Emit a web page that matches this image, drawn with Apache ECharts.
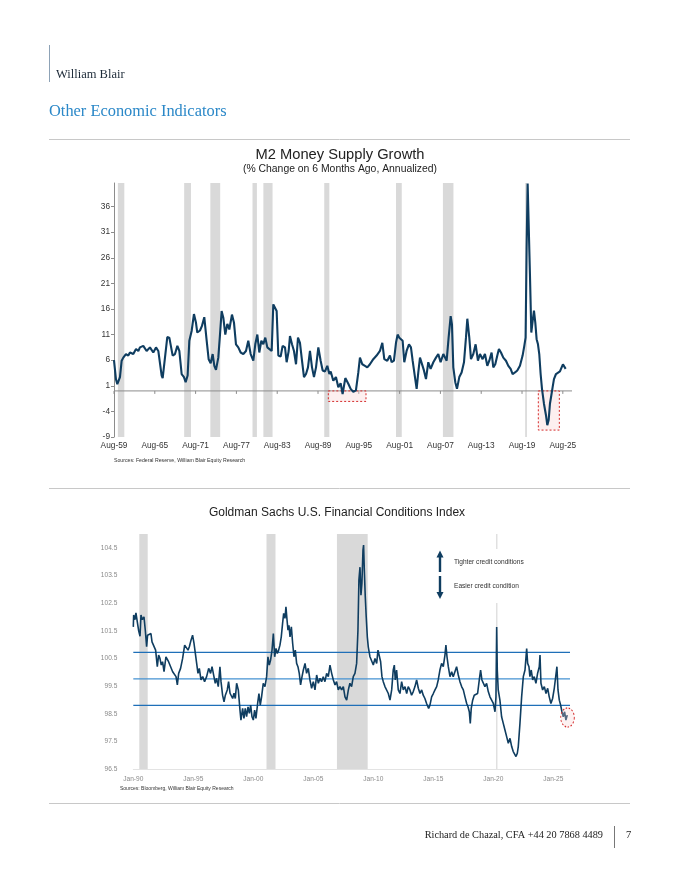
<!DOCTYPE html>
<html>
<head>
<meta charset="utf-8">
<script src="https://cdn.jsdelivr.net/npm/echarts@6/dist/echarts.min.js"></script>
<style>html,body{margin:0;padding:0;background:#fff}#c{width:680px;height:880px}</style>
</head>
<body>
<div id="c"></div>
<script>
// ---------------- Chart 1: M2 Money Supply Growth ----------------
const m2Start = 1959 + 7 / 12; // Aug-59
const m2XLabels = ['Aug-59','Aug-65','Aug-71','Aug-77','Aug-83','Aug-89','Aug-95','Aug-01','Aug-07','Aug-13','Aug-19','Aug-25'];
const m2YTicks = [-9, -4, 1, 6, 11, 16, 21, 26, 31, 36];
const m2Recessions = [[1960.15,1961.1],[1969.9,1970.9],[1973.75,1975.2],[1979.95,1980.6],[1981.55,1982.9],[1990.5,1991.25],[2001.05,2001.9],[2007.95,2009.5],[2020.05,2020.3]];
const m2Highlights = [[1991.1, 0, 1996.64, -2.05], [2021.98, 0, 2025.07, -7.65]];
const m2Growth = [
[1959.58,6.0],[1959.87,2.3],[1960.07,1.3],[1960.46,2.7],[1960.71,5.9],[1960.95,6.5],[1961.34,7.2],[1961.69,6.9],[1961.93,7.5],
[1962.42,7.2],[1962.82,8.2],[1963.16,7.8],[1963.4,8.5],[1963.89,8.8],[1964.38,7.8],[1964.87,8.5],[1965.36,7.5],[1965.76,8.5],
[1966.1,7.8],[1966.59,3.0],[1966.74,2.5],[1967.08,6.5],[1967.42,10.5],[1967.72,10.4],[1968.21,6.9],[1968.55,7.2],[1968.9,8.8],
[1969.19,7.8],[1969.53,3.3],[1969.87,2.7],[1970.12,1.7],[1970.41,3.0],[1970.66,9.8],[1971.0,11.7],[1971.34,15.0],[1971.64,13.3],
[1971.83,11.4],[1972.23,11.8],[1972.52,12.7],[1972.86,14.4],[1973.21,9.8],[1973.5,6.2],[1973.8,5.4],[1974.09,7.2],[1974.34,4.9],
[1974.58,4.1],[1974.92,6.5],[1975.17,11.0],[1975.41,15.6],[1975.66,14.3],[1975.95,11.0],[1976.25,13.1],[1976.54,12.0],[1976.93,14.9],
[1977.23,13.3],[1977.52,9.1],[1977.86,8.5],[1978.21,7.5],[1978.6,7.2],[1978.99,7.8],[1979.33,9.8],[1979.68,7.2],[1980.07,5.9],
[1980.36,9.1],[1980.66,11.0],[1980.95,7.5],[1981.25,9.8],[1981.54,9.1],[1981.83,10.4],[1982.13,8.5],[1982.42,8.8],[1982.77,7.8],
[1983.01,16.9],[1983.26,17.2],[1983.5,15.6],[1983.75,6.9],[1984.09,6.7],[1984.38,8.8],[1984.73,8.5],[1984.97,5.6],[1985.27,7.8],
[1985.46,10.7],[1985.76,9.1],[1986.05,7.8],[1986.35,5.2],[1986.64,10.4],[1986.93,9.4],[1987.23,5.9],[1987.52,2.7],[1987.82,3.3],
[1988.11,4.6],[1988.4,7.8],[1988.7,4.6],[1988.99,2.7],[1989.29,4.6],[1989.63,8.5],[1989.97,5.9],[1990.27,4.0],[1990.61,3.8],
[1990.95,4.9],[1991.25,3.3],[1991.45,3.8],[1991.83,2.0],[1992.22,2.7],[1992.57,0.7],[1992.91,1.5],[1993.2,-0.6],[1993.6,2.5],
[1994.04,1.4],[1994.38,0.4],[1994.77,-0.2],[1995.16,0.1],[1995.51,3.6],[1995.75,6.5],[1996.1,5.2],[1996.49,4.9],[1996.83,4.6],
[1997.22,5.2],[1997.71,6.2],[1998.2,6.9],[1998.69,7.8],[1999.04,9.4],[1999.33,6.2],[1999.77,5.9],[2000.16,6.9],[2000.41,5.6],
[2000.75,5.9],[2001.05,9.4],[2001.29,11.0],[2001.54,10.4],[2001.73,10.4],[2002.03,9.8],[2002.27,5.6],[2002.61,7.8],[2002.96,9.1],
[2003.25,8.5],[2003.5,5.9],[2003.84,2.7],[2004.09,0.4],[2004.33,3.6],[2004.58,6.5],[2004.87,6.2],[2005.16,4.0],[2005.46,2.3],
[2005.8,5.6],[2006.14,4.3],[2006.54,5.6],[2006.93,6.5],[2007.27,7.2],[2007.61,5.6],[2008.01,7.2],[2008.3,7.5],[2008.5,5.9],
[2008.79,10.4],[2009.09,14.6],[2009.28,13.0],[2009.48,4.6],[2009.77,1.7],[2010.02,0.4],[2010.36,2.7],[2010.7,3.6],[2011.05,5.6],
[2011.34,10.4],[2011.54,14.1],[2011.83,10.4],[2012.08,6.2],[2012.42,7.2],[2012.76,9.1],[2013.1,5.9],[2013.4,7.2],[2013.79,6.2],
[2014.13,7.2],[2014.48,4.9],[2014.77,5.9],[2015.11,7.5],[2015.36,4.6],[2015.65,5.2],[2015.95,6.9],[2016.19,8.2],[2016.49,7.5],
[2016.83,6.5],[2017.22,5.9],[2017.57,4.9],[2017.91,4.3],[2018.2,3.3],[2018.55,3.6],[2018.89,4.0],[2019.28,4.9],[2019.67,6.9],
[2019.92,8.8],[2020.11,10.4],[2020.26,27.8],[2020.41,40.5],[2020.6,40.5],[2020.75,22.7],[2020.95,11.4],[2021.14,13.6],[2021.34,15.7],
[2021.54,13.3],[2021.73,10.1],[2021.93,9.1],[2022.12,7.2],[2022.32,3.3],[2022.52,0.4],[2022.81,-2.5],[2023.1,-4.7],[2023.3,-6.7],
[2023.5,-5.7],[2023.69,-2.5],[2023.89,-0.9],[2024.08,0.7],[2024.28,2.3],[2024.58,3.3],[2024.87,3.6],[2025.16,3.8],[2025.41,4.6],
[2025.6,5.2],[2025.8,4.9],[2026.0,4.3]
];

// ---------------- Chart 2: Goldman Sachs FCI ----------------
const fciXLabels = ['Jan-90','Jan-95','Jan-00','Jan-05','Jan-10','Jan-15','Jan-20','Jan-25'];
const fciRecessions = [[1990.5,1991.2],[2001.1,2001.85],[2006.97,2009.53],[2020.24,2020.32]];
const fciBandLevels = [100.72, 99.76, 98.8];
const fciBandColors = ['#1f6fb8', '#4592d2', '#1f6fb8'];
const fciIndex = [
[1990.0,101.64],[1990.03,102.07],[1990.14,101.9],[1990.22,102.15],[1990.33,101.83],[1990.44,101.52],[1990.56,101.3],[1990.64,102.07],
[1990.75,101.9],[1990.89,102.0],[1991.0,101.52],[1991.11,100.92],[1991.19,101.34],[1991.33,101.28],[1991.47,101.4],[1991.56,101.1],
[1991.72,101.04],[1991.86,100.8],[1992.0,100.2],[1992.11,100.62],[1992.22,100.5],[1992.33,100.26],[1992.44,100.38],[1992.56,100.02],
[1992.72,100.56],[1992.83,100.62],[1992.94,100.38],[1993.11,100.2],[1993.28,100.02],[1993.44,99.96],[1993.56,99.84],[1993.67,99.54],
[1993.78,99.96],[1993.94,100.14],[1994.11,100.5],[1994.28,100.98],[1994.39,101.04],[1994.56,100.8],[1994.67,100.92],[1994.81,101.16],
[1994.94,101.34],[1995.06,101.04],[1995.17,100.68],[1995.28,100.32],[1995.39,99.96],[1995.5,100.14],[1995.64,99.72],[1995.78,99.84],
[1995.94,99.66],[1996.11,99.84],[1996.28,100.14],[1996.44,99.96],[1996.56,100.2],[1996.72,99.84],[1996.83,99.6],[1996.94,99.78],
[1997.08,99.48],[1997.22,100.2],[1997.31,99.66],[1997.44,99.17],[1997.56,98.93],[1997.67,99.17],[1997.83,99.36],[1997.94,99.66],
[1998.06,99.24],[1998.17,99.17],[1998.28,99.05],[1998.39,99.24],[1998.5,99.05],[1998.61,99.6],[1998.75,99.36],[1998.89,98.63],
[1998.97,98.27],[1999.11,98.69],[1999.22,98.33],[1999.33,98.69],[1999.44,98.39],[1999.56,98.75],[1999.67,98.51],[1999.78,98.81],
[1999.89,98.39],[2000.0,98.27],[2000.11,98.63],[2000.22,98.33],[2000.36,98.87],[2000.47,99.23],[2000.58,98.81],[2000.69,99.11],
[2000.83,99.6],[2000.97,99.48],[2001.11,99.84],[2001.22,100.56],[2001.33,100.26],[2001.44,100.44],[2001.56,100.8],[2001.67,101.4],
[2001.78,100.56],[2001.89,100.86],[2002.0,100.68],[2002.11,100.8],[2002.22,100.98],[2002.33,101.28],[2002.44,101.77],[2002.53,102.13],
[2002.64,101.95],[2002.72,102.37],[2002.81,101.89],[2002.89,101.52],[2002.97,101.7],[2003.06,101.28],[2003.17,101.64],[2003.28,101.04],
[2003.39,100.56],[2003.5,100.8],[2003.61,100.32],[2003.72,100.2],[2003.83,99.96],[2003.94,99.54],[2004.06,99.84],[2004.17,100.08],
[2004.31,100.32],[2004.44,99.96],[2004.58,100.14],[2004.72,99.72],[2004.86,99.42],[2005.0,99.66],[2005.14,99.36],[2005.28,99.9],
[2005.42,99.6],[2005.56,99.78],[2005.69,99.66],[2005.83,99.84],[2005.97,99.66],[2006.11,99.96],[2006.25,99.84],[2006.39,100.26],
[2006.53,99.96],[2006.67,99.72],[2006.81,99.54],[2006.94,99.66],[2007.08,99.36],[2007.22,99.48],[2007.36,99.36],[2007.5,99.48],
[2007.64,99.11],[2007.78,98.99],[2007.92,99.36],[2008.05,99.6],[2008.19,99.48],[2008.33,99.84],[2008.47,99.96],[2008.61,100.32],
[2008.72,101.52],[2008.8,103.33],[2008.89,103.8],[2008.97,102.79],[2009.05,103.21],[2009.14,104.42],[2009.19,104.6],[2009.25,103.7],
[2009.33,102.73],[2009.41,102.0],[2009.5,101.28],[2009.58,100.92],[2009.72,100.56],[2009.86,100.62],[2010.0,100.26],[2010.14,100.5],
[2010.28,100.32],[2010.39,100.8],[2010.5,100.86],[2010.61,100.38],[2010.72,99.84],[2010.83,99.66],[2010.97,99.48],[2011.11,99.54],
[2011.25,99.23],[2011.39,98.99],[2011.53,99.36],[2011.66,100.08],[2011.75,100.26],[2011.83,99.72],[2011.94,100.08],[2012.08,99.36],
[2012.22,99.23],[2012.36,99.66],[2012.5,99.36],[2012.64,99.48],[2012.78,99.23],[2012.91,99.48],[2013.05,99.36],[2013.19,99.17],
[2013.33,99.3],[2013.47,99.48],[2013.61,99.72],[2013.75,99.42],[2013.89,99.23],[2014.03,99.36],[2014.16,99.17],[2014.3,99.05],
[2014.44,98.87],[2014.61,98.69],[2014.72,98.81],[2014.86,99.11],[2015.0,99.23],[2015.14,99.36],[2015.28,99.48],[2015.41,99.72],
[2015.55,100.08],[2015.69,100.32],[2015.83,100.2],[2015.97,100.62],[2016.05,100.98],[2016.14,100.56],[2016.25,100.2],[2016.39,99.84],
[2016.53,100.02],[2016.66,99.84],[2016.8,99.78],[2016.94,100.2],[2017.08,99.9],[2017.22,99.66],[2017.36,99.48],[2017.5,99.36],
[2017.64,99.11],[2017.78,98.87],[2017.89,98.75],[2018.0,98.57],[2018.08,98.15],[2018.16,98.69],[2018.28,98.99],[2018.41,99.17],
[2018.55,99.11],[2018.69,99.23],[2018.83,99.72],[2018.94,100.08],[2019.05,99.72],[2019.16,99.66],[2019.3,99.48],[2019.44,99.6],
[2019.58,99.3],[2019.72,99.11],[2019.86,98.99],[2020.0,98.87],[2020.14,98.57],[2020.22,99.11],[2020.28,101.64],[2020.33,100.08],
[2020.41,99.36],[2020.55,98.99],[2020.69,98.39],[2020.83,98.15],[2020.97,97.91],[2021.11,97.67],[2021.25,97.43],[2021.39,97.61],
[2021.53,97.31],[2021.66,97.13],[2021.8,97.19],[2021.89,96.95],[2022.0,97.07],[2022.08,97.31],[2022.22,98.15],[2022.36,99.11],
[2022.5,99.84],[2022.64,100.08],[2022.78,100.86],[2022.86,100.32],[2022.97,100.2],[2023.05,99.84],[2023.16,100.08],[2023.28,99.72],
[2023.41,99.84],[2023.55,99.6],[2023.69,99.96],[2023.83,100.2],[2023.89,100.62],[2023.97,99.6],[2024.11,99.36],[2024.25,99.48],
[2024.39,99.23],[2024.53,99.42],[2024.66,99.11],[2024.8,98.87],[2024.94,99.05],[2025.08,99.42],[2025.22,99.48],[2025.3,100.2],
[2025.39,99.36],[2025.5,98.99],[2025.61,98.81],[2025.72,98.57],[2025.83,98.39],[2025.94,98.57],[2026.05,98.27],[2026.16,98.45]
];

// ---------------- styling constants ----------------
const NAVY = '#0f3d60';
const SANS = '"Liberation Sans", Arial, sans-serif';
const SERIF = '"Liberation Serif", "DejaVu Serif", serif';
const REC = '#d9d9d9';

const chart = echarts.init(document.getElementById('c'), null, {renderer: 'canvas'});

function bandItem(params, api) {
  const x0 = api.coord([api.value(0), api.value(2)])[0];
  const x1 = api.coord([api.value(1), api.value(2)])[0];
  const cs = params.coordSys;
  return {type: 'rect', shape: {x: x0, y: cs.y, width: Math.max(x1 - x0, 1.2), height: cs.height}, style: {fill: REC}};
}
function hLineItem(colors, w) {
  return function (params, api) {
    const cs = params.coordSys;
    const y = api.coord([api.value(0), api.value(1)])[1];
    return {type: 'line', shape: {x1: cs.x, y1: y, x2: cs.x + cs.width, y2: y},
      style: {stroke: colors[params.dataIndex % colors.length], lineWidth: w}};
  };
}
function tickItem(params, api) {
  const p = api.coord([api.value(0), 0]);
  return {type: 'line', shape: {x1: p[0], y1: p[1], x2: p[0], y2: p[1] + 3}, style: {stroke: '#8c8c8c', lineWidth: 1}};
}
function boxItem(params, api) {
  const a = api.coord([api.value(0), api.value(1)]);
  const b = api.coord([api.value(2), api.value(3)]);
  return {type: 'rect', shape: {x: a[0], y: a[1], width: b[0] - a[0], height: b[1] - a[1]},
    style: {fill: 'rgba(250,210,210,0.35)', stroke: '#d42a2a', lineWidth: 1, lineDash: [2, 2]}};
}

const m2Off = v => v - m2Start;
const m2XMax = 67.35;
const fciXMin = 1990, fciXMax = 2026.39;

const option = {
  animation: false,
  backgroundColor: '#ffffff',
  grid: [
    {left: 114, top: 183, width: 458, height: 254},
    {left: 133.3, top: 534, width: 436.7, height: 235}
  ],
  xAxis: [
    {type: 'value', gridIndex: 0, min: 0, max: m2XMax, interval: 6,
      axisLine: {show: false, onZero: false}, axisTick: {show: false}, splitLine: {show: false},
      axisLabel: {show: true, showMaxLabel: false, margin: 5, color: '#333', fontSize: 8.3, fontFamily: SANS,
        formatter: v => m2XLabels[Math.round(v / 6)] || ''}},
    {type: 'value', gridIndex: 1, min: fciXMin, max: fciXMax, interval: 5,
      axisLine: {show: true, onZero: false, lineStyle: {color: '#e3e3e3', width: 1}}, axisTick: {show: false}, splitLine: {show: false},
      axisLabel: {show: true, showMaxLabel: false, margin: 7, color: '#8a8a8a', fontSize: 6.6, fontFamily: SANS,
        formatter: v => fciXLabels[Math.round((v - fciXMin) / 5)] || ''}}
  ],
  yAxis: [
    {type: 'value', gridIndex: 0, min: -9, max: 40.6, interval: 5,
      axisLine: {show: true, lineStyle: {color: '#8c8c8c', width: 1}},
      axisTick: {show: true, length: 3, lineStyle: {color: '#8c8c8c'}},
      splitLine: {show: false},
      axisLabel: {showMaxLabel: false, margin: 4, color: '#333', fontSize: 8.3, fontFamily: SANS,
        formatter: v => (m2YTicks.indexOf(Math.round(v)) >= 0 ? String(Math.round(v)) : '')}},
    {type: 'value', gridIndex: 1, min: 96.5, max: 105, interval: 1,
      axisLine: {show: false}, axisTick: {show: false}, splitLine: {show: false},
      axisLabel: {showMaxLabel: false, margin: 16, color: '#8a8a8a', fontSize: 6.6, fontFamily: SANS,
        formatter: v => v.toFixed(1)}}
  ],
  series: [
    {type: 'custom', name: 'm2Rec', xAxisIndex: 0, yAxisIndex: 0, z: 1, silent: true,
      renderItem: bandItem, encode: {x: [0, 1], y: 2},
      data: m2Recessions.map(r => [m2Off(r[0]), m2Off(r[1]), 0])},
    {type: 'custom', name: 'm2Zero', xAxisIndex: 0, yAxisIndex: 0, z: 2, silent: true,
      renderItem: hLineItem(['#8c8c8c'], 1), encode: {x: 0, y: 1}, data: [[0, 0]]},
    {type: 'custom', name: 'm2Ticks', xAxisIndex: 0, yAxisIndex: 0, z: 2, silent: true,
      renderItem: tickItem, encode: {x: 0, y: 1}, data: m2XLabels.map((l, i) => [i * 6, 0])},
    {type: 'custom', name: 'm2Boxes', xAxisIndex: 0, yAxisIndex: 0, z: 2, silent: true,
      renderItem: boxItem, encode: {x: [0, 2], y: [1, 3]},
      data: m2Highlights.map(h => [m2Off(h[0]), h[1], m2Off(h[2]), h[3]])},
    {type: 'line', name: 'M2', xAxisIndex: 0, yAxisIndex: 0, z: 4, showSymbol: false, clip: true,
      lineStyle: {color: NAVY, width: 2.1}, data: m2Growth.map(p => [m2Off(p[0]), p[1]])},

    {type: 'custom', name: 'fciRec', xAxisIndex: 1, yAxisIndex: 1, z: 1, silent: true,
      renderItem: bandItem, encode: {x: [0, 1], y: 2},
      data: fciRecessions.map(r => [r[0], r[1], 100])},
    {type: 'custom', name: 'fciBands', xAxisIndex: 1, yAxisIndex: 1, z: 2, silent: true,
      renderItem: hLineItem(fciBandColors, 1.2), encode: {x: 0, y: 1},
      data: fciBandLevels.map(v => [fciXMin, v])},
    {type: 'line', name: 'FCI', xAxisIndex: 1, yAxisIndex: 1, z: 4, showSymbol: false, clip: true,
      lineStyle: {color: NAVY, width: 1.6}, data: fciIndex}
  ],
  graphic: [
    // header
    {type: 'line', z: 20, shape: {x1: 49.5, y1: 45, x2: 49.5, y2: 82}, style: {stroke: '#8da2b6', lineWidth: 1}},
    {type: 'text', z: 20, x: 56, y: 75, style: {text: 'William Blair', font: '12.5px ' + SERIF, fill: '#1d2a38', textAlign: 'left', align: 'left', textVerticalAlign: 'middle', verticalAlign: 'middle'}},
    {type: 'text', z: 20, x: 49, y: 112, style: {text: 'Other Economic Indicators', font: '16.4px ' + SERIF, fill: '#2b88c8', textAlign: 'left', align: 'left', textVerticalAlign: 'middle', verticalAlign: 'middle'}},
    // separators
    {type: 'line', z: 20, shape: {x1: 49, y1: 139.5, x2: 630, y2: 139.5}, style: {stroke: '#c8c8c8', lineWidth: 1}},
    {type: 'line', z: 20, shape: {x1: 49, y1: 488.5, x2: 630, y2: 488.5}, style: {stroke: '#c8c8c8', lineWidth: 1}},
    {type: 'line', z: 20, shape: {x1: 49, y1: 803.5, x2: 630, y2: 803.5}, style: {stroke: '#c8c8c8', lineWidth: 1}},
    // chart 1 titles
    {type: 'text', z: 20, x: 340, y: 155, style: {text: 'M2 Money Supply Growth', font: '14.7px ' + SANS, fill: '#222', textAlign: 'center', align: 'center', textVerticalAlign: 'middle', verticalAlign: 'middle'}},
    {type: 'text', z: 20, x: 340, y: 169.5, style: {text: '(% Change on 6 Months Ago, Annualized)', font: '10.4px ' + SANS, fill: '#222', textAlign: 'center', align: 'center', textVerticalAlign: 'middle', verticalAlign: 'middle'}},
    {type: 'text', z: 20, x: 114, y: 461, style: {text: 'Sources: Federal Reserve, William Blair Equity Research', font: '5.2px ' + SANS, fill: '#333', textAlign: 'left', align: 'left', textVerticalAlign: 'middle', verticalAlign: 'middle'}},
    // chart 2 titles
    {type: 'text', z: 20, x: 337, y: 513, style: {text: 'Goldman Sachs U.S. Financial Conditions Index', font: '12px ' + SANS, fill: '#222', textAlign: 'center', align: 'center', textVerticalAlign: 'middle', verticalAlign: 'middle'}},
    {type: 'text', z: 20, x: 120, y: 789, style: {text: 'Sources: Bloomberg, William Blair Equity Research', font: '5px ' + SANS, fill: '#333', textAlign: 'left', align: 'left', textVerticalAlign: 'middle', verticalAlign: 'middle'}},
    // legend box (white) with arrows
    {type: 'rect', z: 10, shape: {x: 428, y: 549, width: 134, height: 54}, style: {fill: '#ffffff'}},
    {type: 'line', z: 21, shape: {x1: 440, y1: 556, x2: 440, y2: 572}, style: {stroke: NAVY, lineWidth: 2.4}},
    {type: 'polygon', z: 21, shape: {points: [[440, 550.5], [436.5, 557.5], [443.5, 557.5]]}, style: {fill: NAVY}},
    {type: 'line', z: 21, shape: {x1: 440, y1: 576, x2: 440, y2: 593}, style: {stroke: NAVY, lineWidth: 2.4}},
    {type: 'polygon', z: 21, shape: {points: [[440, 599], [436.5, 592], [443.5, 592]]}, style: {fill: NAVY}},
    {type: 'text', z: 21, x: 454, y: 562, style: {text: 'Tighter credit conditions', font: '6.6px ' + SANS, fill: '#333', textAlign: 'left', align: 'left', textVerticalAlign: 'middle', verticalAlign: 'middle'}},
    {type: 'text', z: 21, x: 454, y: 586.5, style: {text: 'Easier credit condition', font: '6.6px ' + SANS, fill: '#333', textAlign: 'left', align: 'left', textVerticalAlign: 'middle', verticalAlign: 'middle'}},
    // red dashed ellipse at end of FCI
    {type: 'circle', z: 21, x: 567.5, y: 717.5, scaleY: 1.4, shape: {cx: 0, cy: 0, r: 6.8},
      style: {fill: 'rgba(250,210,210,0.3)', stroke: '#d42a2a', lineWidth: 0.9, lineDash: [1.5, 1.5], strokeNoScale: true}},
    // footer
    {type: 'text', z: 20, x: 603, y: 835.5, style: {text: 'Richard de Chazal, CFA +44 20 7868 4489', font: '10.3px ' + SERIF, fill: '#222', textAlign: 'right', align: 'right', textVerticalAlign: 'middle', verticalAlign: 'middle'}},
    {type: 'line', z: 20, shape: {x1: 614.5, y1: 826, x2: 614.5, y2: 848}, style: {stroke: '#777', lineWidth: 1}},
    {type: 'text', z: 20, x: 626, y: 835.5, style: {text: '7', font: '10.5px ' + SERIF, fill: '#222', textAlign: 'left', align: 'left', textVerticalAlign: 'middle', verticalAlign: 'middle'}}
  ]
};
chart.setOption(option);
</script>
</body>
</html>
